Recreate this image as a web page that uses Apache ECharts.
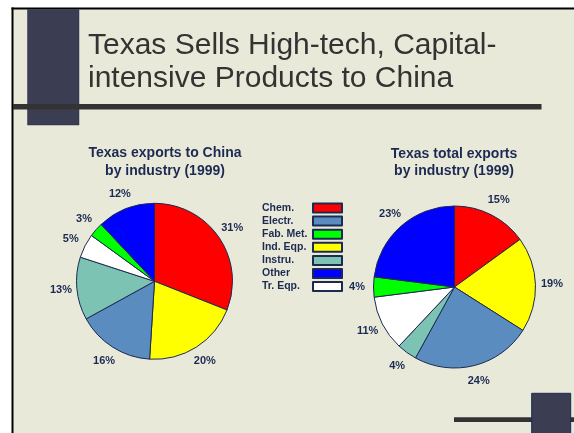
<!DOCTYPE html>
<html>
<head>
<meta charset="utf-8">
<title>Texas Sells High-tech, Capital-intensive Products to China</title>
<script src="https://cdn.jsdelivr.net/npm/echarts@6/dist/echarts.min.js"></script>
<style>
  html, body { margin: 0; padding: 0; background: #ffffff; }
  #chart { width: 574px; height: 433px; }
</style>
</head>
<body>
<div id="chart"></div>
<script>
// Industry categories in the order the slices run clockwise from 12 o'clock
const categories = ['Chem.', 'Ind. Eqp.', 'Electr.', 'Instru.', 'Tr. Eqp.', 'Fab. Met.', 'Other'];
// Order shown in the legend
const legendOrder = ['Chem.', 'Electr.', 'Fab. Met.', 'Ind. Eqp.', 'Instru.', 'Other', 'Tr. Eqp.'];
// Share of exports by industry, 1999 (%)
const chinaShares = [31, 20, 16, 13, 5, 3, 12];
const totalShares = [15, 19, 24, 4, 11, 4, 23];
// Fill colour per industry
const industryColors = {
  'Chem.': '#ff0000',
  'Ind. Eqp.': '#ffff00',
  'Electr.': '#5b8cbf',
  'Instru.': '#7cc3b3',
  'Tr. Eqp.': '#ffffff',
  'Fab. Met.': '#00ff00',
  'Other': '#0000ff'
};

const NAVY = '#1c2a52';
const FONT = "'Liberation Sans', Arial, Helvetica, sans-serif";

function sliceData(values, withColor) {
  return categories.map((name, i) => ({
    name: name,
    value: values[i],
    itemStyle: withColor ? { color: industryColors[name] } : { color: 'rgba(0,0,0,0)' }
  }));
}

function piePair(values, center, radius, labelRadius) {
  return [
    {
      type: 'pie',
      center: center,
      radius: radius,
      startAngle: 90,
      clockwise: true,
      silent: true,
      label: { show: false },
      labelLine: { show: false },
      itemStyle: { borderColor: NAVY, borderWidth: 1 },
      data: sliceData(values, true)
    },
    {
      // percentage labels sitting just outside each slice
      type: 'pie',
      center: center,
      radius: labelRadius,
      startAngle: 90,
      clockwise: true,
      silent: true,
      itemStyle: { borderWidth: 0 },
      label: {
        show: true,
        position: 'inside',
        formatter: '{c}%',
        color: NAVY,
        fontFamily: FONT,
        fontWeight: 'bold',
        fontSize: 11
      },
      labelLine: { show: false },
      data: sliceData(values, false)
    }
  ];
}

const chart = echarts.init(document.getElementById('chart'), null, { renderer: 'canvas' });

chart.setOption({
  animation: false,
  backgroundColor: '#ffffff',
  graphic: [
    // slide background
    { type: 'rect', shape: { x: 12, y: 8, width: 562, height: 425 }, style: { fill: '#e9e9da' }, z: -10 },
    // frame lines
    { type: 'rect', shape: { x: 11.5, y: 7.5, width: 562.5, height: 2 }, style: { fill: '#000000' }, z: -9 },
    { type: 'rect', shape: { x: 11.5, y: 7.5, width: 2, height: 425.5 }, style: { fill: '#000000' }, z: -9 },
    // header block and rule
    { type: 'rect', shape: { x: 27.5, y: 9.5, width: 51.5, height: 115.5 }, style: { fill: '#3b3e52', stroke: '#26304d', lineWidth: 0.5 }, z: -8 },
    { type: 'rect', shape: { x: 13, y: 104, width: 528.5, height: 5.5 }, style: { fill: '#333333' }, z: -7 },
    // footer rule and block
    { type: 'rect', shape: { x: 454, y: 417.3, width: 120, height: 4.8 }, style: { fill: '#333333' }, z: -7 },
    { type: 'rect', shape: { x: 531.7, y: 393.3, width: 39, height: 45 }, style: { fill: '#3b3e52', stroke: '#1c2a52', lineWidth: 1 }, z: -6 }
  ],
  title: [
    {
      text: 'Texas Sells High-tech, Capital-\nintensive Products to China',
      left: 88,
      top: 29,
      padding: 0,
      textAlign: 'left',
      textStyle: { fontFamily: FONT, fontSize: 30, fontWeight: 'normal', color: '#333333', lineHeight: 33 }
    },
    {
      text: 'Texas exports to China\nby industry (1999)',
      left: 165,
      top: 144.5,
      padding: 0,
      textAlign: 'center',
      textStyle: { fontFamily: FONT, fontSize: 14, fontWeight: 'bold', color: NAVY, lineHeight: 17.5 }
    },
    {
      text: 'Texas total exports\nby industry (1999)',
      left: 454,
      top: 145,
      padding: 0,
      textAlign: 'center',
      textStyle: { fontFamily: FONT, fontSize: 14, fontWeight: 'bold', color: NAVY, lineHeight: 17.5 }
    }
  ],
  legend: {
    orient: 'vertical',
    left: 262,
    top: 202.5,
    padding: 0,
    align: 'right',
    itemWidth: 29,
    itemHeight: 9,
    itemGap: 2.1,
    icon: 'rect',
    selectedMode: false,
    data: legendOrder,
    formatter: name => '{t|' + name + '}',
    textStyle: {
      rich: {
        t: {
          width: 46,
          align: 'left',
          fontFamily: FONT,
          fontWeight: 'bold',
          fontSize: 10.5,
          color: NAVY
        }
      }
    }
  },
  series: [
    ...piePair(chinaShares, [154.5, 281.3], 78, 182),
    ...piePair(totalShares, [454.5, 287], 81, 189)
  ]
});
</script>
</body>
</html>
